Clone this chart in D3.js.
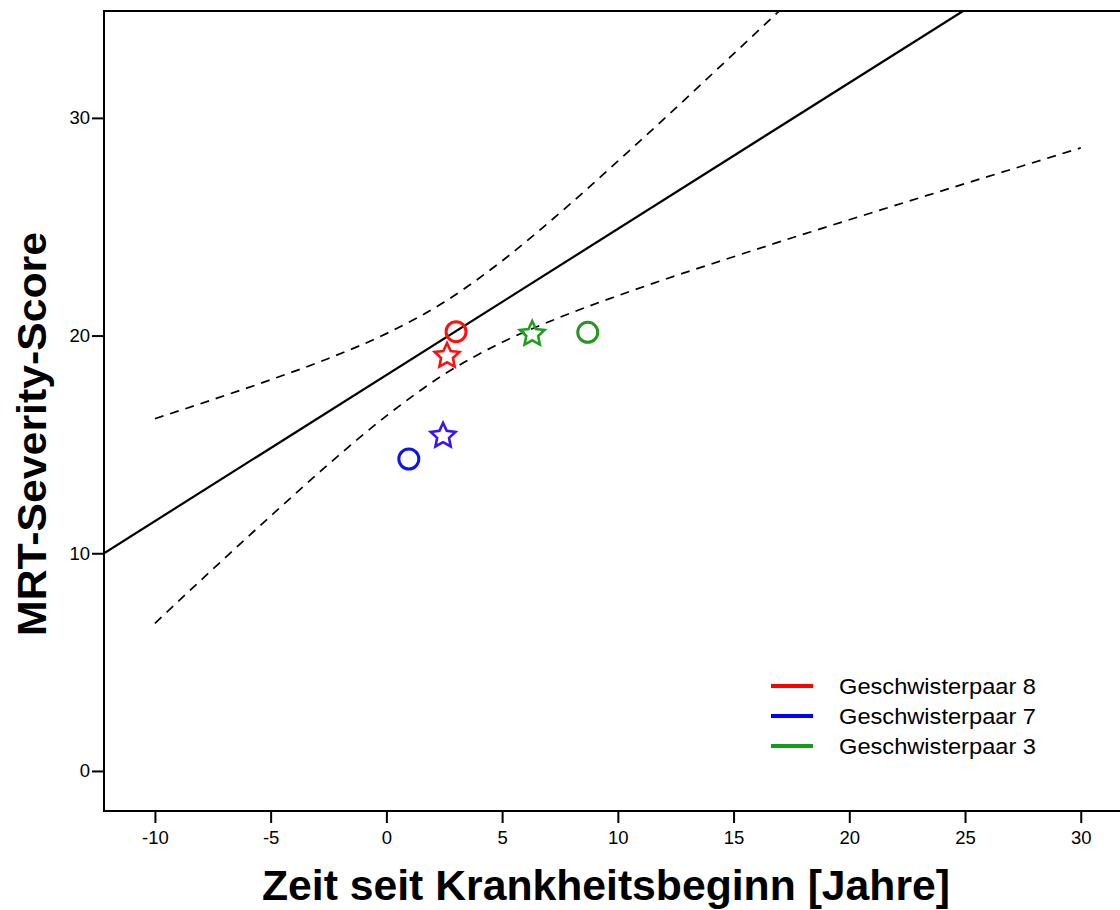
<!DOCTYPE html>
<html>
<head>
<meta charset="utf-8">
<script src="https://cdn.jsdelivr.net/npm/d3@7/dist/d3.min.js"></script>
<style>
  body { margin: 0; background: #fff; }
  svg { display: block; font-family: "Liberation Sans", Arial, Helvetica, sans-serif; }
</style>
</head>
<body>
<svg id="chart" width="1120" height="910"></svg>
<script>
// ---- data ----
var xTicks = [-10, -5, 0, 5, 10, 15, 20, 25, 30];
var yTicks = [0, 10, 20, 30];

// regression line (endpoints)
var fitLine = [[-12.2, 10.0], [24.9, 34.9]];

// confidence band, upper and lower dashed curves
var bandX = [-10, -7.5, -5, -2.5, 0, 2.5, 5, 7.5, 10, 12.5, 15, 17.5, 20, 22.5, 25, 27.5, 30];
var bandUpper = [16.18, 17.06, 17.97, 18.95, 20.09, 21.54, 23.43, 25.64, 28.01, 30.45, 32.94, 35.44, 37.96, 40.49, 43.02, 45.56, 48.1];
var bandLower = [6.78, 9.27, 11.71, 14.09, 16.31, 18.22, 19.69, 20.84, 21.83, 22.75, 23.62, 24.48, 25.32, 26.15, 26.98, 27.80, 28.62];

// sibling pairs: circle + star per pair
var pairs = ["Geschwisterpaar 8", "Geschwisterpaar 7", "Geschwisterpaar 3"];
var pairColors = ["#ff0000", "#0000ff", "#149c14"];
var points = [
  { pair: "Geschwisterpaar 8", shape: "circle", x: 3.01, y: 20.18, color: "#ff1010" },
  { pair: "Geschwisterpaar 8", shape: "star", x: 2.62, y: 19.06, color: "#ff1010" },
  { pair: "Geschwisterpaar 7", shape: "star", x: 2.45, y: 15.39, color: "#3a14f0" },
  { pair: "Geschwisterpaar 7", shape: "circle", x: 0.97, y: 14.33, color: "#0a14f0" },
  { pair: "Geschwisterpaar 3", shape: "star", x: 6.30, y: 20.07, color: "#1ea01e" },
  { pair: "Geschwisterpaar 3", shape: "circle", x: 8.70, y: 20.15, color: "#28961e" }
];

// ---- chart ----
var svg = d3.select("#chart");
var margin = { left: 104, top: 11, bottom: 811, right: 1140 };

var x = d3.scaleLinear().domain([-12.2, 32.56]).range([margin.left, margin.right]);
var y = d3.scaleLinear().domain([-1.84, 34.91]).range([margin.bottom, margin.top]);

svg.append("clipPath").attr("id", "plot")
  .append("rect")
  .attr("x", margin.left).attr("y", margin.top)
  .attr("width", margin.right - margin.left).attr("height", margin.bottom - margin.top);

var plot = svg.append("g").attr("clip-path", "url(#plot)");

var line = d3.line().x(d => x(d[0])).y(d => y(d[1]));

plot.append("path")
  .datum(fitLine)
  .attr("d", line)
  .attr("fill", "none")
  .attr("stroke", "#000")
  .attr("stroke-width", 2.2);

var curve = d3.line().x(d => x(d[0])).y(d => y(d[1])).curve(d3.curveMonotoneX);

[bandUpper, bandLower].forEach(function (vals) {
  plot.append("path")
    .datum(bandX.map((bx, i) => [bx, vals[i]]))
    .attr("d", curve)
    .attr("fill", "none")
    .attr("stroke", "#000")
    .attr("stroke-width", 1.7)
    .attr("stroke-dasharray", "9,7");
});

// star with fatter inner radius
var star = {
  draw: function (context, size) {
    var r = Math.sqrt(size), ri = r * 0.48;
    for (var i = 0; i < 10; i++) {
      var a = -Math.PI / 2 + i * Math.PI / 5;
      var rr = i % 2 ? ri : r;
      if (i === 0) context.moveTo(rr * Math.cos(a), rr * Math.sin(a));
      else context.lineTo(rr * Math.cos(a), rr * Math.sin(a));
    }
    context.closePath();
  }
};

svg.selectAll(".pt")
  .data(points)
  .enter().append("path")
  .attr("class", "pt")
  .attr("transform", d => `translate(${x(d.x)},${y(d.y)})`)
  .attr("d", d => d.shape === "star"
    ? d3.symbol().type(star).size(13 * 13)()
    : d3.symbol().type(d3.symbolCircle).size(Math.PI * 10 * 10)())
  .attr("fill", "none")
  .attr("stroke", d => d.color)
  .attr("stroke-width", d => d.shape === "star" ? 2.6 : 3);

// frame: left, top, bottom
svg.append("path")
  .attr("d", `M${margin.right},${margin.top}H${margin.left}V${margin.bottom}H${margin.right}`)
  .attr("fill", "none")
  .attr("stroke", "#000")
  .attr("stroke-width", 2);

// axes
var xAxis = svg.append("g")
  .attr("transform", `translate(0,${margin.bottom})`)
  .call(d3.axisBottom(x).tickValues(xTicks).tickFormat(d => String(d))
    .tickSize(12).tickPadding(8).tickSizeOuter(0));
var yAxis = svg.append("g")
  .attr("transform", `translate(${margin.left},0)`)
  .call(d3.axisLeft(y).tickValues(yTicks).tickFormat(d => String(d))
    .tickSize(12).tickPadding(2).tickSizeOuter(0));

[xAxis, yAxis].forEach(function (g) {
  g.select(".domain").remove();
  g.selectAll(".tick line").attr("stroke-width", 2);
  g.selectAll(".tick text")
    .attr("font-family", "'Liberation Sans', Arial, sans-serif")
    .attr("font-size", 18.5)
    .attr("fill", "#000");
});

// axis titles
svg.append("text")
  .attr("x", 606).attr("y", 900)
  .attr("text-anchor", "middle")
  .attr("font-weight", "bold")
  .attr("font-size", 42)
  .attr("textLength", 688)
  .attr("lengthAdjust", "spacingAndGlyphs")
  .text("Zeit seit Krankheitsbeginn [Jahre]");

svg.append("text")
  .attr("transform", "translate(46,434) rotate(-90)")
  .attr("text-anchor", "middle")
  .attr("font-weight", "bold")
  .attr("font-size", 41)
  .attr("textLength", 404)
  .attr("lengthAdjust", "spacingAndGlyphs")
  .text("MRT-Severity-Score");

// legend
var legend = svg.selectAll(".legend")
  .data(pairs)
  .enter().append("g")
  .attr("class", "legend")
  .attr("transform", (d, i) => `translate(771,${686 + i * 30})`);

legend.append("line")
  .attr("x1", 0).attr("x2", 42)
  .attr("stroke", (d, i) => pairColors[i])
  .attr("stroke-width", 4);

legend.append("text")
  .attr("x", 68).attr("y", 8)
  .attr("font-size", 22)
  .attr("textLength", 197)
  .attr("lengthAdjust", "spacingAndGlyphs")
  .text(d => d);
</script>
</body>
</html>
